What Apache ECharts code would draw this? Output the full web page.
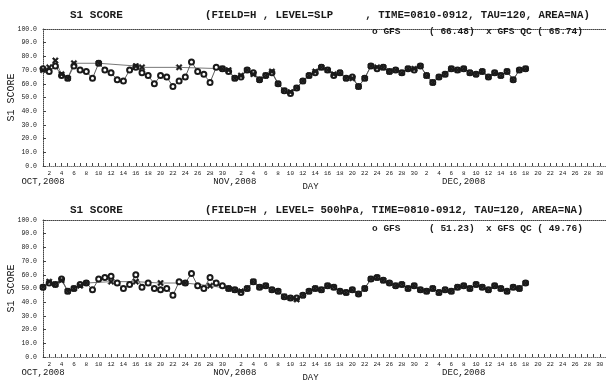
<!DOCTYPE html>
<html>
<head>
<meta charset="utf-8">
<script src="https://cdn.jsdelivr.net/npm/echarts@6/dist/echarts.min.js"></script>
<style>
html, body { margin: 0; padding: 0; background: #fff; }
#chart { width: 606px; height: 383px; }
</style>
</head>
<body>
<div id="chart"></div>
<script>
// months shown on the day axis: [label, length, day under which the label sits]
var months = [['OCT,2008', 31, 1], ['NOV,2008', 30, 1], ['DEC,2008', 31, 8]];
var yTicks = [0, 10, 20, 30, 40, 50, 60, 70, 80, 90, 100];

// daily S1 scores, Oct 1 .. Dec 19 2008 (null = no QC value)
var gfsSlp = [71, 69, 73, 66, 64, 73, 70, 69, 64, 75,
    70, 68, 63, 62, 70, 72, 68, 66, 60, 66,
    65, 58, 62, 65, 76, 69, 67, 61, 72, 71,
    69, 64, 65, 70, 68, 63, 66, 68, 60, 55,
    53, 57, 62, 66, 68, 72, 70, 66, 68, 64,
    65, 58, 64, 73, 71, 72, 69, 70, 68, 71,
    70, 73, 66, 61, 65, 67, 71, 70, 71, 68,
    67, 69, 65, 68, 66, 69, 63, 70, 71];
var qcSlp = [70, 72, 77, 67, 64, 75, null, null, null, 75,
    null, null, null, null, null, 73, 72, null, null, null,
    null, null, 72, null, null, null, null, null, null, 71,
    70, 64, 66, 70, 67, 63, 66, 69, 60, 55,
    54, 57, 62, 66, 69, 72, 70, 67, 68, 64,
    64, 58, 64, 73, 72, 72, 69, 70, 68, 71,
    71, 73, 66, 61, 65, 67, 71, 70, 71, 68,
    67, 69, 65, 68, 66, 69, 63, 70, 71];
var gfs500 = [51, 54, 53, 57, 48, 50, 53, 54, 49, 57,
    58, 59, 54, 50, 53, 60, 51, 54, 50, 49,
    50, 45, 55, 54, 61, 52, 50, 58, 54, 52,
    50, 49, 47, 50, 55, 51, 52, 49, 48, 44,
    43, 43, 45, 48, 50, 49, 52, 51, 48, 47,
    49, 46, 50, 57, 58, 56, 54, 52, 53, 50,
    52, 49, 48, 50, 47, 49, 48, 51, 52, 50,
    53, 51, 49, 52, 50, 48, 51, 50, 54];
var qc500 = [51, 55, 53, 56, 48, 50, 52, 54, null, null,
    null, 55, null, null, null, 55, null, null, null, 54,
    null, null, null, 54, null, null, null, 52, null, null,
    50, 49, 48, 50, 55, 51, 52, 49, 48, 44,
    43, 42, 45, 48, 50, 49, 52, 51, 48, 47,
    49, 46, 50, 57, 58, 56, 54, 52, 53, 50,
    52, 49, 48, 50, 47, 49, 48, 51, 52, 50,
    53, 51, 49, 52, 50, 48, 51, 50, 54];

var days = [], dayNum = [], monthAt = {};
months.forEach(function (m) {
    for (var d = 1; d <= m[1]; d++) {
        if (d === m[2]) monthAt[days.length] = m[0];
        days.push(m[0].slice(0, 3) + ' ' + d);
        dayNum.push(d);
    }
});

var mono = 'Liberation Mono';
var ink = '#1a1a1a';
var crossPath = 'path://M0,2L2,0L5,3L8,0L10,2L7,5L10,8L8,10L5,7L2,10L0,8L3,5Z';

function dayLabel(value, index) {
    var d = dayNum[index];
    var s = d % 2 === 0 ? String(d) : '';
    if (monthAt[index]) s += '\n{m|' + monthAt[index] + '}';
    return s;
}

function bottomAxis(grid) {
    return {
        type: 'category', gridIndex: grid, data: days, boundaryGap: false,
        name: 'DAY', nameLocation: 'middle', nameGap: 16, nameMoveOverlap: false,
        nameTextStyle: { fontFamily: mono, fontSize: 9, color: ink, padding: [0, 28, 0, 0] },
        axisLine: { lineStyle: { color: '#777', type: 'dotted', width: 1 } },
        axisTick: { interval: 0, inside: true, length: 3, lineStyle: { color: '#444' } },
        axisLabel: {
            interval: 0, formatter: dayLabel, margin: 3, fontFamily: mono, fontSize: 6, lineHeight: 8, color: ink,
            rich: { m: { fontFamily: mono, fontSize: 9, lineHeight: 9, color: ink } }
        }
    };
}
function topBorder(grid) {
    return {
        type: 'category', gridIndex: grid, data: days, boundaryGap: false, position: 'top',
        axisLine: { lineStyle: { color: '#444', type: 'dotted', width: 1 } },
        axisTick: { show: false }, axisLabel: { show: false }
    };
}
function scoreAxis(grid) {
    return {
        type: 'value', gridIndex: grid, min: yTicks[0], max: yTicks[yTicks.length - 1], interval: 10,
        name: 'S1 SCORE', nameLocation: 'middle', nameGap: 27, nameRotate: 90, nameMoveOverlap: false,
        nameTextStyle: { fontFamily: mono, fontSize: 10, color: ink },
        axisLine: { show: true, lineStyle: { color: '#444', type: 'dotted', width: 1 } },
        axisTick: { show: true, inside: true, length: 3, lineStyle: { color: '#444' } },
        splitLine: { show: false },
        axisLabel: { formatter: function (v) { return v.toFixed(1); }, margin: 6, fontFamily: mono, fontSize: 6.5, color: ink }
    };
}
function gfsSeries(data, xi, yi) {
    return {
        type: 'line', data: data, xAxisIndex: xi, yAxisIndex: yi,
        symbol: 'emptyCircle', symbolSize: 5, showAllSymbol: true,
        lineStyle: { color: '#333', width: 0.8 },
        itemStyle: { color: ink, borderWidth: 1.2 }
    };
}
function qcSeries(data, xi, yi) {
    return {
        type: 'line', data: data, xAxisIndex: xi, yAxisIndex: yi, connectNulls: true,
        symbol: crossPath, symbolSize: 6, showAllSymbol: true,
        lineStyle: { color: '#555', width: 0.8 },
        itemStyle: { color: ink, borderColor: ink, borderWidth: 0.6 }
    };
}
function label(text, left, top, size) {
    return { text: text, left: left, top: top, padding: 0,
        textStyle: { fontFamily: mono, fontSize: size, fontWeight: 'bold', color: ink } };
}

var option = {
    animation: false,
    backgroundColor: '#fff',
    title: [
        label('S1 SCORE', 70, 10, 11),
        label('(FIELD=H , LEVEL=SLP     , TIME=0810-0912, TAU=120, AREA=NA)', 205, 10, 10.7),
        label('o GFS     ( 66.48)  x GFS QC ( 65.74)', 372, 27, 9.5),
        label('S1 SCORE', 70, 205, 11),
        label('(FIELD=H , LEVEL= 500hPa, TIME=0810-0912, TAU=120, AREA=NA)', 205, 205, 10.7),
        label('o GFS     ( 51.23)  x GFS QC ( 49.76)', 372, 224, 9.5)
    ],
    grid: [
        { left: 43, right: 0, top: 29, height: 137, outerBoundsMode: 'none' },
        { left: 43, right: 0, top: 220, height: 137, outerBoundsMode: 'none' }
    ],
    xAxis: [bottomAxis(0), topBorder(0), bottomAxis(1), topBorder(1)],
    yAxis: [scoreAxis(0), scoreAxis(1)],
    series: [
        gfsSeries(gfsSlp, 0, 0), qcSeries(qcSlp, 0, 0),
        gfsSeries(gfs500, 2, 1), qcSeries(qc500, 2, 1)
    ]
};

var chart = echarts.init(document.getElementById('chart'));
chart.setOption(option);
</script>
</body>
</html>
